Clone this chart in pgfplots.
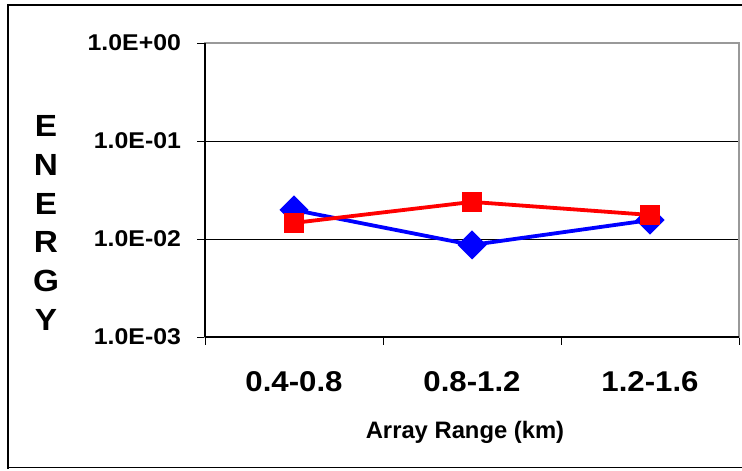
\documentclass[border=0pt]{standalone}
\usepackage{fontspec}
\setmainfont{Liberation Sans}
\newfontfamily\wide[FakeStretch=1.09]{Liberation Sans}
\usepackage{pgfplots}
\pgfplotsset{compat=1.18}
\begin{document}
\begin{tikzpicture}
\useasboundingbox (0,0) rectangle (371pt,235pt);
\draw[line width=0.6pt] (4pt,0.5pt) -- (4pt,232.5pt) -- (371pt,232.5pt);
\draw[line width=0.6pt] (4pt,1.2pt) -- (371pt,1.2pt);
\node[font=\wide\bfseries\fontsize{15.3}{19.4}\selectfont, align=center] at (23pt,123.5pt) {E\\N\\E\\R\\G\\Y};
\begin{axis}[
  at={(102.5pt,66.5pt)}, anchor=south west,
  scale only axis, width=267pt, height=147pt,
  ymode=log, ymin=1e-3, ymax=1,
  xmin=0, xmax=3,
  xtick={0,1,2,3},
  xticklabels={0.4-0.8,0.8-1.2,1.2-1.6},
  x tick label as interval,
  ytick={1e-3,1e-2,1e-1,1},
  yticklabels={1.0E-03,1.0E-02,1.0E-01,1.0E+00},
  yminorticks=false,
  tick align=outside,
  xtick pos=left, ytick pos=left,
  major tick length=4pt,
  tick style={black, line width=0.5pt},
  ymajorgrids,
  major grid style={black, line width=0.5pt},
  axis line style={draw=gray!80, line width=0.6pt},
  yticklabel style={font=\wide\bfseries\fontsize{11.4}{13}\selectfont, xshift=-4.5pt},
  xticklabel style={font=\wide\bfseries\fontsize{14.3}{16}\selectfont, yshift=-9.5pt},
  xlabel={Array Range (km)},
  xlabel style={font=\bfseries\fontsize{11.9}{13}\selectfont, yshift=-8pt, xshift=-3.5pt},
  clip=false,
]
\addplot[blue, line width=1.9pt, mark=square*, mark size=4.2pt, mark options={rotate=45, solid, fill=blue}]
  coordinates {(0.5,0.0198) (1.5,0.0087) (2.5,0.0156)};
\addplot[red, line width=1.9pt, mark=square*, mark size=4.2pt, mark options={solid, fill=red}]
  coordinates {(0.5,0.0146) (1.5,0.0239) (2.5,0.0176)};
\draw[black, line width=0.6pt] (rel axis cs:0,0) -- (rel axis cs:0,1);
\draw[black, line width=0.6pt] (rel axis cs:0,0) -- (rel axis cs:1,0);
\end{axis}
\end{tikzpicture}
\end{document}
